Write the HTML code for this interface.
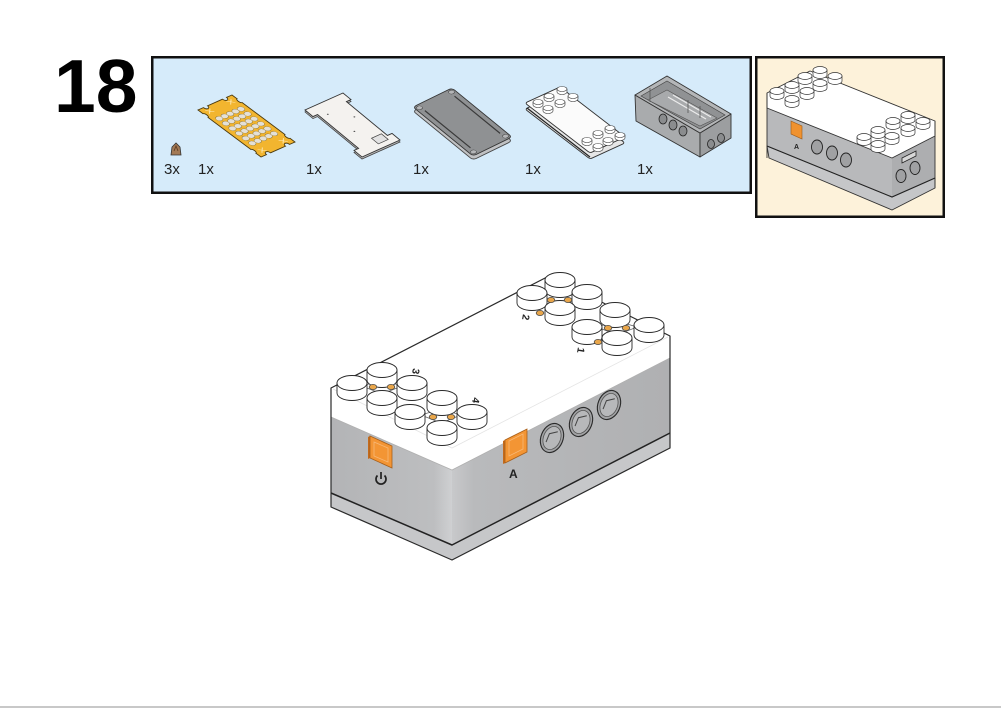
<!DOCTYPE html>
<html><head><meta charset="utf-8">
<style>
html,body{margin:0;padding:0;background:#fff;}
svg{display:block;}
text{font-family:"Liberation Sans",Arial,sans-serif;}
</style></head><body>
<svg width="1001" height="708" viewBox="0 0 1001 708" xmlns="http://www.w3.org/2000/svg">
<defs>
  <g id="stud">
    <path d="M-15,0 L-15,10 A15,7.5 0 0 0 15,10 L15,0 Z" fill="#fff" stroke="#2a2a2a" stroke-width="0.9"/>
    <ellipse cx="0" cy="0" rx="15" ry="7.5" fill="#fff" stroke="#2a2a2a" stroke-width="0.9"/>
  </g>
  <g id="ms">
    <path d="M-7,0 L-7,5 A7,3.5 0 0 0 7,5 L7,0 Z" fill="#fff" stroke="#333" stroke-width="0.7"/>
    <ellipse cx="0" cy="0" rx="7" ry="3.5" fill="#fff" stroke="#333" stroke-width="0.7"/>
  </g>
  <g id="ts">
    <path d="M-5,0 L-5,3 A5,2.5 0 0 0 5,3 L5,0 Z" fill="#fff" stroke="#333" stroke-width="0.6"/>
    <ellipse cx="0" cy="0" rx="5" ry="2.5" fill="#fff" stroke="#333" stroke-width="0.6"/>
  </g>
  <g id="hole">
    <ellipse rx="11" ry="15" fill="#a2a3a5" stroke="#2a2a2a" stroke-width="1.1"/>
    <ellipse rx="8.5" ry="12" fill="#b7b8ba" stroke="#555" stroke-width="0.8"/>
    <path d="M-4,6 L-4,-3 L3,-8" stroke="#444" stroke-width="1" fill="none"/>
  </g>
  <linearGradient id="gl" x1="331" y1="0" x2="452" y2="0" gradientUnits="userSpaceOnUse">
    <stop offset="0" stop-color="#b3b4b6"/><stop offset="0.85" stop-color="#bdbec0"/><stop offset="1" stop-color="#cfd0d2"/>
  </linearGradient>
  <linearGradient id="gr" x1="452" y1="0" x2="670" y2="0" gradientUnits="userSpaceOnUse">
    <stop offset="0" stop-color="#c8c9cb"/><stop offset="0.1" stop-color="#b9babc"/><stop offset="1" stop-color="#afb0b2"/>
  </linearGradient>
</defs>

<rect x="0" y="0" width="1001" height="708" fill="#fff"/>
<rect x="0" y="706" width="1001" height="2" fill="#c8c8c8"/>

<text x="54" y="112" font-size="75" font-weight="bold" fill="#000">18</text>

<rect x="152.25" y="57.25" width="598.5" height="135.5" fill="#d6ebfa" stroke="#111" stroke-width="2.5"/>
<rect x="756.25" y="57.25" width="187.5" height="159.5" fill="#fdf2da" stroke="#111" stroke-width="2.5"/>

<g font-size="15" fill="#222">
  <text x="164" y="174">3x</text>
  <text x="198" y="174">1x</text>
  <text x="306" y="174">1x</text>
  <text x="413" y="174">1x</text>
  <text x="525" y="174">1x</text>
  <text x="637" y="174">1x</text>
</g>

<!-- screw -->
<path d="M171,155 L172,147 L176,143 L180,147 L181,155 Z" fill="#a47a55" stroke="#333" stroke-width="0.8"/>
<path d="M174,151 L176,146 L178,151" fill="none" stroke="#5a3a20" stroke-width="0.8"/>

<!-- yellow PCB plate -->
<g transform="matrix(0.63 0.47 0.34 -0.15 198 110)">
  <path d="M0,0 H8 a4,4 0 0 0 8,0 H84 a4,4 0 0 0 8,0 H100 V16 a4,6 0 0 0 0,12 V72 a4,6 0 0 0 0,12 V100 H92 a4,4 0 0 0 -8,0 H16 a4,4 0 0 0 -8,0 H0 V84 a4,6 0 0 0 0,-12 V28 a4,6 0 0 0 0,-12 Z" fill="#f2b52f" stroke="#4a3a10" stroke-width="0.9" vector-effect="non-scaling-stroke"/>
  <g fill="#e4e0d6" stroke="#7a6a3a" stroke-width="0.6" vector-effect="non-scaling-stroke">
    <ellipse cx="24" cy="18" rx="4" ry="8"/><ellipse cx="34.5" cy="18" rx="4" ry="8"/><ellipse cx="45" cy="18" rx="4" ry="8"/><ellipse cx="55.5" cy="18" rx="4" ry="8"/><ellipse cx="66" cy="18" rx="4" ry="8"/><ellipse cx="76.5" cy="18" rx="4" ry="8"/>
    <ellipse cx="24" cy="34" rx="4" ry="8"/><ellipse cx="34.5" cy="34" rx="4" ry="8"/><ellipse cx="45" cy="34" rx="4" ry="8"/><ellipse cx="55.5" cy="34" rx="4" ry="8"/><ellipse cx="66" cy="34" rx="4" ry="8"/><ellipse cx="76.5" cy="34" rx="4" ry="8"/>
    <ellipse cx="24" cy="50" rx="4" ry="8"/><ellipse cx="34.5" cy="50" rx="4" ry="8"/><ellipse cx="45" cy="50" rx="4" ry="8"/><ellipse cx="55.5" cy="50" rx="4" ry="8"/><ellipse cx="66" cy="50" rx="4" ry="8"/><ellipse cx="76.5" cy="50" rx="4" ry="8"/>
    <ellipse cx="24" cy="66" rx="4" ry="8"/><ellipse cx="34.5" cy="66" rx="4" ry="8"/><ellipse cx="45" cy="66" rx="4" ry="8"/><ellipse cx="55.5" cy="66" rx="4" ry="8"/><ellipse cx="66" cy="66" rx="4" ry="8"/><ellipse cx="76.5" cy="66" rx="4" ry="8"/>
    <ellipse cx="24" cy="82" rx="4" ry="8"/><ellipse cx="34.5" cy="82" rx="4" ry="8"/><ellipse cx="45" cy="82" rx="4" ry="8"/><ellipse cx="55.5" cy="82" rx="4" ry="8"/><ellipse cx="66" cy="82" rx="4" ry="8"/><ellipse cx="76.5" cy="82" rx="4" ry="8"/>
  </g>
  <g stroke="#fff6d8" stroke-width="1" vector-effect="non-scaling-stroke" fill="none">
    <path d="M5,12 L12,26 M5,26 L12,12"/><path d="M88,12 L95,26 M88,26 L95,12"/>
    <path d="M5,74 L12,88 M5,88 L12,74"/><path d="M88,74 L95,88 M88,88 L95,74"/>
  </g>
</g>

<!-- white board plate -->
<g transform="translate(0,2)">
<g transform="matrix(0.57 0.47 0.38 -0.17 305 110)">
  <path d="M0,0 H14 V12 H86 V0 H100 V100 H86 V88 H14 V100 H0 Z" fill="#b9b9b9" stroke="#444" stroke-width="0.8" vector-effect="non-scaling-stroke"/>
</g></g>
<g transform="matrix(0.57 0.47 0.38 -0.17 305 110)">
  <path d="M0,0 H14 V12 H86 V0 H100 V100 H86 V88 H14 V100 H0 Z" fill="#f4f2ef" stroke="#333" stroke-width="0.9" vector-effect="non-scaling-stroke"/>
  <rect x="80" y="55" width="12" height="26" fill="#e2e2e2" stroke="#444" stroke-width="0.7" vector-effect="non-scaling-stroke"/>
  <g fill="#555"><ellipse cx="20" cy="30" rx="1" ry="2"/><ellipse cx="40" cy="70" rx="1" ry="2"/><ellipse cx="60" cy="40" rx="1" ry="2"/></g>
</g>

<!-- gray plate -->
<g transform="translate(0,4)">
<g transform="matrix(0.60 0.49 0.39 -0.19 413 107)">
  <rect x="0" y="0" width="100" height="100" rx="4" ry="8" fill="#c0c1c3" stroke="#444" stroke-width="0.9" vector-effect="non-scaling-stroke"/>
</g></g>
<g transform="matrix(0.60 0.49 0.39 -0.19 413 107)">
  <rect x="0" y="0" width="100" height="100" rx="4" ry="8" fill="#8f9193" stroke="#333" stroke-width="0.9" vector-effect="non-scaling-stroke"/>
  <path d="M12,12 H88 M12,88 H88" stroke="#3a3a3a" stroke-width="1.2" vector-effect="non-scaling-stroke"/>
  <g fill="#b5b6b8" stroke="#333" stroke-width="0.7" vector-effect="non-scaling-stroke">
    <ellipse cx="5" cy="9" rx="3" ry="6"/><ellipse cx="95" cy="9" rx="3" ry="6"/><ellipse cx="5" cy="91" rx="3" ry="6"/><ellipse cx="95" cy="91" rx="3" ry="6"/>
  </g>
</g>

<!-- white lid part -->
<g transform="translate(0,6)">
<g transform="matrix(0.65 0.50 0.35 -0.16 525 103)">
  <rect x="0" y="0" width="100" height="100" rx="3" ry="6" fill="#e6e6e6" stroke="#333" stroke-width="0.9" vector-effect="non-scaling-stroke"/>
</g></g>
<g transform="matrix(0.65 0.50 0.35 -0.16 525 103)">
  <rect x="0" y="0" width="100" height="100" rx="3" ry="6" fill="#fbfbfb" stroke="#333" stroke-width="0.9" vector-effect="non-scaling-stroke"/>
</g>
<path d="M527,108 L590,157" stroke="#222" stroke-width="1.2"/>
<use href="#ts" x="562" y="89"/><use href="#ts" x="549" y="96"/><use href="#ts" x="573" y="96"/><use href="#ts" x="560" y="102"/>
<use href="#ts" x="538" y="102"/><use href="#ts" x="548" y="108"/>
<use href="#ts" x="610" y="128"/><use href="#ts" x="598" y="133"/><use href="#ts" x="620" y="135"/><use href="#ts" x="608" y="140"/>
<use href="#ts" x="587" y="140"/><use href="#ts" x="598" y="146"/>

<!-- gray case (open tray) -->
<polygon points="635,95 700,133 700,157 636,121" fill="#a9abad" stroke="#333" stroke-width="0.9" stroke-linejoin="round"/>
<polygon points="700,133 731,114 731,138 700,157" fill="#9c9ea0" stroke="#333" stroke-width="0.9" stroke-linejoin="round"/>
<polygon points="635,95 667,76 731,114 700,133" fill="#b4b6b8" stroke="#333" stroke-width="0.9" stroke-linejoin="round"/>
<polygon points="641,96 667,81 725,115 700,129" fill="#909294" stroke="#444" stroke-width="0.7"/>
<polygon points="648,100 667,90 717,118 700,126" fill="#a8aaac" stroke="#555" stroke-width="0.6"/>
<path d="M668,97 L706,119 M673,95 L711,117" stroke="#ececec" stroke-width="1.2"/>
<path d="M650,88 L650,102 M688,100 L688,113 M700,106 L700,118" stroke="#555" stroke-width="0.8"/>
<g fill="#8a8c8e" stroke="#222" stroke-width="0.8">
  <ellipse cx="663" cy="119" rx="4" ry="5"/><ellipse cx="673" cy="125" rx="4" ry="5"/><ellipse cx="683" cy="131" rx="4" ry="5"/>
  <ellipse cx="711" cy="144" rx="3.5" ry="4.5"/><ellipse cx="721" cy="138" rx="3.5" ry="4.5"/>
</g>

<!-- Preview mini model -->
<polygon points="767,146 892,197 935,178 935,188 892,210 769,158" fill="#c5c6c8" stroke="#333" stroke-width="0.9" stroke-linejoin="round"/>
<polygon points="767,108 892,158 892,197 767,146" fill="#b8b9bb"/>
<polygon points="892,158 935,136 935,178 892,197" fill="#adaeb0"/>
<polyline points="767,146 892,197 935,178" fill="none" stroke="#222" stroke-width="1.1"/>
<polygon points="767,93 810,71 935,121 935,136 892,158 767,108" fill="#fff" stroke="#333" stroke-width="0.9" stroke-linejoin="round"/>
<path d="M767,93 L767,158 M935,121 L935,188" stroke="#333" stroke-width="0.9"/>
<use href="#ms" x="820" y="70"/><use href="#ms" x="805" y="76"/><use href="#ms" x="835" y="76"/><use href="#ms" x="820" y="83"/>
<use href="#ms" x="792" y="85"/><use href="#ms" x="777" y="91"/><use href="#ms" x="807" y="91"/><use href="#ms" x="792" y="99"/>
<use href="#ms" x="908" y="115"/><use href="#ms" x="893" y="121"/><use href="#ms" x="923" y="121"/><use href="#ms" x="908" y="128"/>
<use href="#ms" x="878" y="130"/><use href="#ms" x="864" y="137"/><use href="#ms" x="892" y="136"/><use href="#ms" x="878" y="144"/>
<polygon points="791,121 802,126 802,139 791,134" fill="#f0922f" stroke="#9a5a1a" stroke-width="0.6"/>
<text x="794" y="149" font-size="7" font-weight="bold" fill="#222">A</text>
<g fill="#a0a1a3" stroke="#222" stroke-width="0.9">
  <ellipse cx="817" cy="147" rx="5.5" ry="7"/><ellipse cx="832" cy="153" rx="5.5" ry="7"/><ellipse cx="846" cy="160" rx="5.5" ry="7"/>
  <ellipse cx="901" cy="176" rx="5" ry="6.5"/><ellipse cx="915" cy="168" rx="5" ry="6.5"/>
</g>
<polygon points="902,158 916,151 916,156 902,163" fill="#d8d8d8" stroke="#222" stroke-width="0.8"/>

<!-- ===== Main hub ===== -->
<polygon points="331,493 452,545 670,433 670,448 452,560 331,507" fill="#c6c7c9"/>
<polygon points="331,417 452,470 452,545 331,493" fill="url(#gl)"/>
<polygon points="452,470 670,358 670,433 452,545" fill="url(#gr)"/>
<polyline points="331,493 452,545 670,433" fill="none" stroke="#222" stroke-width="1.5" stroke-linejoin="round"/>
<polygon points="331,388 549,276 670,336 670,358 452,470 331,417" fill="#fff"/>
<polyline points="331,417 452,470 670,358" fill="none" stroke="#b0b0b0" stroke-width="0.8"/>
<polyline points="333,389 452,448 668,337" fill="none" stroke="#e4e4e4" stroke-width="0.8"/>
<path d="M331,388 L549,276 L670,336 L670,448 L452,560 L331,507 Z" fill="none" stroke="#2a2a2a" stroke-width="1.2" stroke-linejoin="round"/>

<!-- power button -->
<polygon points="368,437 370,436 370,458 368,459" fill="#c46a1c"/>
<polygon points="370,436 392,446 392,468 370,458" fill="#f39534" stroke="#a85f1a" stroke-width="0.8"/>
<polygon points="374,442 388,448 388,462 374,456" fill="none" stroke="#f7b878" stroke-width="0.8"/>
<path d="M377.5,475.5 A5,5 0 1 0 384.5,475.5 M381,472 V479" fill="none" stroke="#222" stroke-width="1.7"/>

<!-- A button -->
<polygon points="503,441 505,440 505,463 503,464" fill="#c46a1c"/>
<polygon points="505,440 527,429 527,452 505,463" fill="#f39534" stroke="#a85f1a" stroke-width="0.8"/>
<polygon points="509,441 523,434 523,449 509,456" fill="none" stroke="#f7b878" stroke-width="0.8"/>
<text x="509" y="478" font-size="12" font-weight="bold" fill="#222">A</text>

<use href="#hole" transform="translate(552,438) rotate(22)"/>
<use href="#hole" transform="translate(581,422) rotate(22)"/>
<use href="#hole" transform="translate(609,405) rotate(22)"/>

<g fill="none" stroke="#666" stroke-width="0.8">
  <path d="M540,296 L560,290 L580,296 L560,304 Z"/>
  <path d="M597,327 L617,321 L637,327 L617,335 Z"/>
  <path d="M362,386 L382,380 L402,386 L382,394 Z"/>
  <path d="M421,415 L441,409 L461,415 L441,423 Z"/>
</g>

<use href="#stud" x="560" y="280"/>
<use href="#stud" x="532" y="293"/>
<use href="#stud" x="587" y="292"/>
<use href="#stud" x="560" y="308"/>
<use href="#stud" x="615" y="310"/>
<use href="#stud" x="649" y="325"/>
<use href="#stud" x="587" y="327"/>
<use href="#stud" x="617" y="338"/>
<use href="#stud" x="382" y="370"/>
<use href="#stud" x="352" y="383"/>
<use href="#stud" x="412" y="383"/>
<use href="#stud" x="382" y="398"/>
<use href="#stud" x="442" y="398"/>
<use href="#stud" x="410" y="412"/>
<use href="#stud" x="472" y="412"/>
<use href="#stud" x="442" y="428"/>

<g fill="#e9a64a" stroke="#4a4a4a" stroke-width="0.8">
  <ellipse cx="551" cy="300" rx="3.8" ry="2.6"/><ellipse cx="568" cy="300" rx="3.8" ry="2.6"/><ellipse cx="540" cy="313" rx="3.8" ry="2.6"/>
  <ellipse cx="608" cy="328" rx="3.8" ry="2.6"/><ellipse cx="626" cy="328" rx="3.8" ry="2.6"/><ellipse cx="598" cy="342" rx="3.8" ry="2.6"/>
  <ellipse cx="373" cy="387" rx="3.8" ry="2.6"/><ellipse cx="391" cy="387" rx="3.8" ry="2.6"/>
  <ellipse cx="433" cy="417" rx="3.8" ry="2.6"/><ellipse cx="451" cy="417" rx="3.8" ry="2.6"/>
</g>

<g font-size="10" font-weight="bold" fill="#222">
  <text transform="translate(523,314) rotate(100)">2</text>
  <text transform="translate(578,347) rotate(100)">1</text>
  <text transform="translate(413,368) rotate(100)">3</text>
  <text transform="translate(473,397) rotate(100)">4</text>
</g>
</svg>
</body></html>
